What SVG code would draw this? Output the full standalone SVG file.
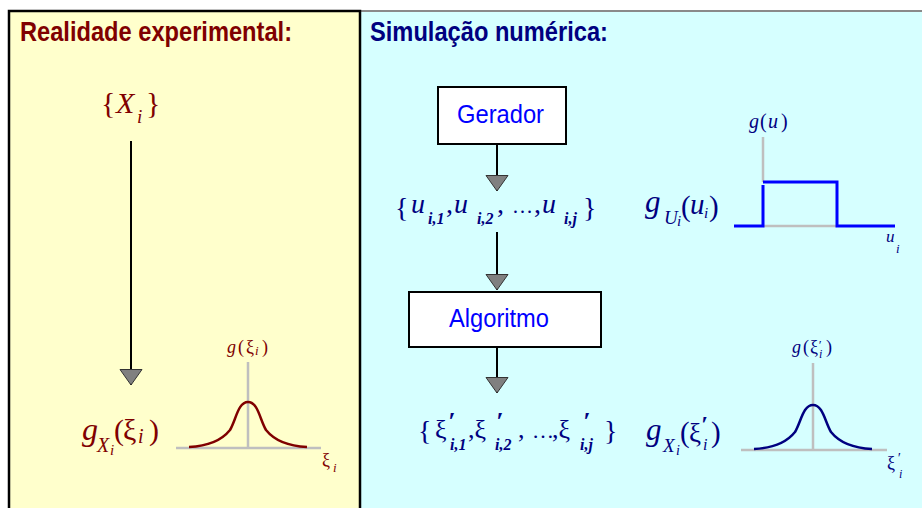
<svg xmlns="http://www.w3.org/2000/svg" width="922" height="508" viewBox="0 0 922 508">
<style>
.title{font-family:"Liberation Sans",Arial,sans-serif;font-weight:bold;font-size:28px}
.box{fill:#FFFFFF;stroke:#000000;stroke-width:2}
.boxtxt{font-family:"Liberation Sans",Arial,sans-serif;font-size:26px;fill:#0000FF}
.m{font-family:"Liberation Serif","Times New Roman",serif}
.it{font-style:italic}
.red{fill:#800000}
.nav{fill:#000080}
.conn{stroke:#000000;stroke-width:2;fill:none}
.axis{stroke:#BFBFBF;stroke-width:2.5;fill:none}
</style>
<defs>
<marker id="tri" markerUnits="userSpaceOnUse" markerWidth="18" markerHeight="26" viewBox="0 -13 17 26" refX="15.5" refY="0" orient="auto">
<path d="M0,-11 L15.5,0 L0,11 Z" fill="#808080" stroke="#333333" stroke-width="1"/>
</marker>
</defs>

<!-- panels -->
<rect x="360" y="11" width="570" height="505" fill="#D6FFFF" stroke="#8A8A8A" stroke-width="2"/>
<rect x="9" y="11" width="351" height="505" fill="#FFFFCC" stroke="#000000" stroke-width="2.5"/>

<text class="title" x="20" y="41" fill="#800000" textLength="272" lengthAdjust="spacingAndGlyphs">Realidade experimental:</text>
<text class="title" x="370" y="41" fill="#000080" textLength="238" lengthAdjust="spacingAndGlyphs">Simulação numérica:</text>

<!-- connectors -->
<g id="connectors">
<line class="conn" x1="131" y1="141" x2="131" y2="385" marker-end="url(#tri)"/>
<line class="conn" x1="497" y1="144" x2="497" y2="191" marker-end="url(#tri)"/>
<line class="conn" x1="497" y1="232" x2="497" y2="290" marker-end="url(#tri)"/>
<line class="conn" x1="497" y1="347" x2="497" y2="393" marker-end="url(#tri)"/>
</g>

<!-- left side -->
<g id="Xi">
<text class="m red" x="101" y="113" font-size="30">{</text>
<text class="m red it" x="116" y="113" font-size="30">X</text>
<text class="m red it" x="137" y="123" font-size="19">i</text>
<text class="m red" x="146" y="113" font-size="30">}</text>
</g>

<g id="gXi-left">
<text class="m red it" x="82" y="440" font-size="32">g</text>
<text class="m red it" x="97" y="452" font-size="20">X</text>
<text class="m red it" x="110" y="455" font-size="15">i</text>
<text class="m red" x="114" y="440" font-size="30">(</text>
<text class="m red" x="123" y="440" font-size="30">ξ</text>
<text class="m red it" x="138" y="443" font-size="20">i</text>
<text class="m red" x="149" y="440" font-size="30">)</text>
</g>

<g id="plot-left">
<line class="axis" x1="176" y1="448" x2="321" y2="448"/>
<line class="axis" x1="248" y1="362" x2="248" y2="448"/>
<path d="M189,447 C210,446 222,440 230,430 C236,420 238,402 248,402 C258,402 260,420 266,430 C274,440 286,446 307,447" fill="none" stroke="#800000" stroke-width="2.5"/>
<text class="m red it" x="227" y="353" font-size="18">g</text>
<text class="m red" x="238" y="353" font-size="18">(</text>
<text class="m red" x="246" y="353" font-size="18">ξ</text>
<text class="m red it" x="255" y="355" font-size="13">i</text>
<text class="m red" x="262" y="353" font-size="18">)</text>
<text class="m red" x="322" y="466" font-size="18">ξ</text>
<text class="m red it" x="333" y="472" font-size="13">i</text>
</g>

<!-- right side -->
<g id="gerador">
<rect class="box" x="438" y="87" width="128" height="57"/>
<text class="boxtxt" x="457" y="123" textLength="87" lengthAdjust="spacingAndGlyphs">Gerador</text>
</g>

<g id="u-set">
<text class="m nav" x="395" y="217" font-size="28">{</text>
<text class="m nav it" x="411" y="213" font-size="28">u</text>
<text class="m nav it" x="428" y="224" font-size="16" font-weight="bold">i,1</text>
<text class="m nav" x="446" y="213" font-size="28">,</text>
<text class="m nav it" x="454" y="213" font-size="28">u</text>
<text class="m nav it" x="477" y="224" font-size="16" font-weight="bold">i,2</text>
<text class="m nav" x="497" y="213" font-size="28">,</text>
<text class="m nav" x="512" y="213" font-size="21">…</text>
<text class="m nav" x="534" y="213" font-size="28">,</text>
<text class="m nav it" x="542" y="213" font-size="28">u</text>
<text class="m nav it" x="564" y="224" font-size="16" font-weight="bold">i,j</text>
<text class="m nav" x="583" y="217" font-size="28">}</text>
</g>

<g id="gU">
<text class="m nav it" x="645" y="212" font-size="31">g</text>
<text class="m nav it" x="664" y="224" font-size="19">U</text>
<text class="m nav it" x="677" y="226" font-size="15">i</text>
<text class="m nav" x="681" y="216" font-size="29">(</text>
<text class="m nav it" x="690" y="214" font-size="29">u</text>
<text class="m nav it" x="704" y="218" font-size="15">i</text>
<text class="m nav" x="709" y="216" font-size="29">)</text>
</g>

<g id="plot-uniform">
<line class="axis" x1="763" y1="137" x2="763" y2="182"/>
<line class="axis" x1="763" y1="226" x2="837" y2="226"/>
<path d="M734,226 L763,226 L763,185 M763,182 L837,182 L837,226 L895,226" fill="none" stroke="#0000FF" stroke-width="3"/>
<text class="m nav it" x="749" y="128" font-size="20">g</text>
<text class="m nav" x="760" y="128" font-size="20">(</text>
<text class="m nav it" x="768" y="128" font-size="20">u</text>
<text class="m nav" x="781" y="128" font-size="20">)</text>
<text class="m nav it" x="886" y="242" font-size="17">u</text>
<text class="m nav it" x="896" y="253" font-size="13">i</text>
</g>

<g id="algoritmo">
<rect class="box" x="409" y="292" width="192" height="55"/>
<text class="boxtxt" x="449" y="327" textLength="100" lengthAdjust="spacingAndGlyphs">Algoritmo</text>
</g>

<g id="xi-set">
<text class="m nav" x="418" y="440" font-size="28">{</text>
<text class="m nav" x="435" y="438" font-size="26">ξ</text>
<text class="m nav it" x="448" y="430" font-size="26" font-weight="bold">′</text>
<text class="m nav it" x="450" y="450" font-size="16" font-weight="bold">i,1</text>
<text class="m nav" x="468" y="438" font-size="26">,ξ</text>
<text class="m nav it" x="496" y="430" font-size="26" font-weight="bold">′</text>
<text class="m nav it" x="495" y="450" font-size="16" font-weight="bold">i,2</text>
<text class="m nav" x="518" y="438" font-size="26">,</text>
<text class="m nav" x="532" y="438" font-size="22">…</text>
<text class="m nav" x="552" y="438" font-size="26">,ξ</text>
<text class="m nav it" x="583" y="430" font-size="26" font-weight="bold">′</text>
<text class="m nav it" x="580" y="450" font-size="16" font-weight="bold">i,j</text>
<text class="m nav" x="604" y="440" font-size="28">}</text>
</g>

<g id="gXi-right">
<text class="m nav it" x="646" y="440" font-size="31">g</text>
<text class="m nav it" x="663" y="452" font-size="19">X</text>
<text class="m nav it" x="676" y="455" font-size="14">i</text>
<text class="m nav" x="680" y="442" font-size="29">(</text>
<text class="m nav" x="689" y="442" font-size="27">ξ</text>
<text class="m nav it" x="701" y="432" font-size="24" font-weight="bold">′</text>
<text class="m nav it" x="703" y="450" font-size="16">i</text>
<text class="m nav" x="711" y="442" font-size="29">)</text>
</g>

<g id="plot-right">
<line class="axis" x1="741" y1="450" x2="887" y2="450"/>
<line class="axis" x1="813" y1="363" x2="813" y2="450"/>
<path d="M754,449 C775,448 787,442 795,432 C801,422 803,405 813,405 C823,405 825,422 831,432 C839,442 851,448 872,449" fill="none" stroke="#000080" stroke-width="2.5"/>
<text class="m nav it" x="792" y="353" font-size="18">g</text>
<text class="m nav" x="803" y="353" font-size="18">(</text>
<text class="m nav" x="810" y="353" font-size="18">ξ</text>
<text class="m nav it" x="818" y="349" font-size="13">′</text>
<text class="m nav it" x="819" y="358" font-size="12">i</text>
<text class="m nav" x="826" y="353" font-size="18">)</text>
<text class="m nav" x="887" y="469" font-size="18">ξ</text>
<text class="m nav it" x="897" y="463" font-size="14">′</text>
<text class="m nav it" x="899" y="478" font-size="12">i</text>
</g>
</svg>
